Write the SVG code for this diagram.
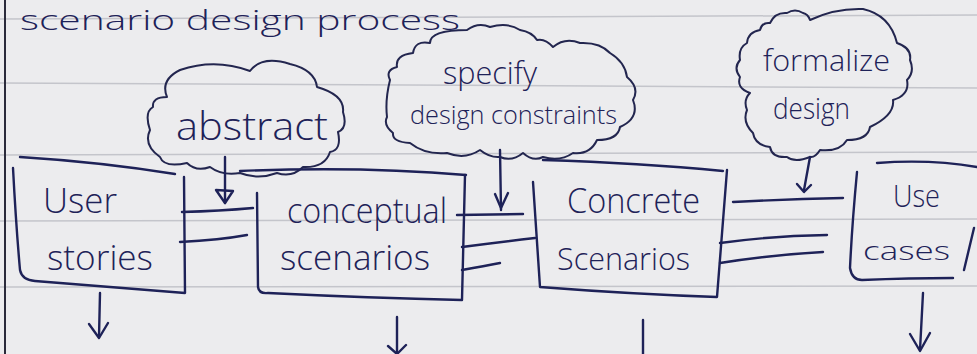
<svg xmlns="http://www.w3.org/2000/svg" width="977" height="354" viewBox="0 0 977 354">
  <style>
    .ink { fill: none; stroke: #1e2258; stroke-width: 2.4; stroke-linecap: round; stroke-linejoin: round; }
    .cloud { fill: none; stroke: #23264f; stroke-width: 2; stroke-linecap: round; stroke-linejoin: round; }
    .rule { stroke: #c4c5cb; stroke-width: 1.5; }
    .lbl { font-family: "Open Sans", "DejaVu Sans", sans-serif; font-weight: 300; fill: #1e2258; }
  </style>
  <rect width="977" height="354" fill="#ececee"/>
  <g id="paper">
    <line class="rule" x1="0" y1="19" x2="977" y2="15"/>
    <line class="rule" x1="0" y1="83" x2="977" y2="88"/>
    <line class="rule" x1="0" y1="155" x2="977" y2="152"/>
    <line class="rule" x1="0" y1="221" x2="977" y2="219"/>
    <line class="rule" x1="0" y1="287" x2="977" y2="286"/>
    <line x1="5" y1="0" x2="5" y2="354" stroke="#2a2a3a" stroke-width="2"/>
  </g>
  <g id="title">
    <text class="lbl" x="20" y="30" font-size="27" textLength="440" lengthAdjust="spacingAndGlyphs">scenario design process</text>
  </g>
  <g id="cloud-abstract">
    <path class="cloud" d="M167,97 Q160,80 180,70 Q215,58 250,71 Q262,55 290,64 Q315,70 317,87 Q345,95 343,112 Q348,128 338,132 Q342,150 330,152 Q325,168 303,167 Q292,178 277,173 Q258,180 240,173 Q222,176 210,167 Q196,172 187,163 Q164,168 160,157 Q143,145 150,130 Q144,112 153,107 Q152,97 167,97 Z"/>
    <text class="lbl" x="176" y="140" font-size="38" textLength="152" lengthAdjust="spacingAndGlyphs">abstract</text>
  </g>
  <g id="cloud-specify">
    <path class="cloud" d="M397,67 Q395,55 413,53 Q415,40 430,43 Q430,30 467,30 Q478,22 490,27 Q508,22 520,30 Q532,32 537,40 Q545,38 553,47 Q565,37 580,43 Q600,42 610,53 Q625,62 627,77 Q640,88 633,100 Q640,118 620,127 Q618,140 597,140 Q590,155 573,153 Q560,162 543,157 Q533,162 523,153 Q512,162 500,157 Q490,158 480,150 Q465,160 447,153 Q425,155 410,143 Q392,142 393,133 Q383,125 387,117 Q385,100 390,80 Q385,70 397,67 Z"/>
    <text class="lbl" x="443" y="84" font-size="32" textLength="94" lengthAdjust="spacingAndGlyphs">specify</text>
    <text class="lbl" x="410" y="124" font-size="25" textLength="207" lengthAdjust="spacingAndGlyphs">design constraints</text>
  </g>
  <g id="cloud-formalize">
    <path class="cloud" d="M760,30 Q762,22 770,23 Q775,12 787,13 Q795,8 803,13 Q808,14 810,20 Q835,8 863,9 Q890,15 897,43 Q912,48 910,60 Q915,72 907,80 Q910,95 893,100 Q895,115 870,127 Q868,140 847,140 Q840,152 820,150 Q815,158 810,157 Q795,163 787,157 Q772,158 770,147 Q755,145 753,133 Q742,122 747,110 Q743,100 750,93 Q736,88 740,77 Q733,68 740,60 Q738,48 747,43 Q748,32 760,30 Z"/>
    <text class="lbl" x="763" y="71" font-size="30" textLength="127" lengthAdjust="spacingAndGlyphs">formalize</text>
    <text class="lbl" x="773" y="119" font-size="29" textLength="77" lengthAdjust="spacingAndGlyphs">design</text>
  </g>
  <g id="user-stories">
    <path class="ink" d="M20,157 Q100,162 175,174"/>
    <path class="ink" d="M13,168 Q16,225 20,270 Q22,280 35,281 Q110,287 185,293 L184,177"/>
    <text class="lbl" x="43" y="213" font-size="34" textLength="74" lengthAdjust="spacingAndGlyphs">User</text>
    <text class="lbl" x="47" y="270" font-size="34" textLength="106" lengthAdjust="spacingAndGlyphs">stories</text>
  </g>
  <g id="conceptual-scenarios">
    <path class="ink" d="M240,171 Q360,166 466,175"/>
    <path class="ink" d="M257,193 L258,287 Q259,294 268,293 Q370,298 462,300 L465,175"/>
    <text class="lbl" x="287" y="223" font-size="34" textLength="160" lengthAdjust="spacingAndGlyphs">conceptual</text>
    <text class="lbl" x="280" y="270" font-size="34" textLength="150" lengthAdjust="spacingAndGlyphs">scenarios</text>
  </g>
  <g id="concrete-scenarios">
    <path class="ink" d="M543,160 Q640,163 723,171"/>
    <path class="ink" d="M533,182 L540,287 Q630,294 717,297 L727,170"/>
    <text class="lbl" x="567" y="213" font-size="34" textLength="133" lengthAdjust="spacingAndGlyphs">Concrete</text>
    <text class="lbl" x="557" y="270" font-size="32" textLength="133" lengthAdjust="spacingAndGlyphs">Scenarios</text>
  </g>
  <g id="use-cases">
    <path class="ink" d="M877,163 Q930,159 977,167"/>
    <path class="ink" d="M857,172 Q852,225 850,268 Q852,280 862,280 Q910,278 953,278"/>
    <path class="ink" d="M974,228 L964,270"/>
    <text class="lbl" x="893" y="207" font-size="32" textLength="47" lengthAdjust="spacingAndGlyphs">Use</text>
    <text class="lbl" x="863" y="260" font-size="26" textLength="87" lengthAdjust="spacingAndGlyphs">cases</text>
  </g>
  <g id="connectors">
    <path class="ink" d="M182,212 Q220,211 253,208"/>
    <path class="ink" d="M180,242 Q220,240 247,235"/>
    <path class="ink" d="M457,215 L523,214"/>
    <path class="ink" d="M462,247 Q500,242 535,238"/>
    <path class="ink" d="M462,270 Q485,266 500,263"/>
    <path class="ink" d="M733,202 Q790,199 843,198"/>
    <path class="ink" d="M720,243 Q770,236 827,235"/>
    <path class="ink" d="M720,263 Q770,255 823,252"/>
    <path class="ink" d="M225,157 L225,203"/>
    <path class="ink" d="M216,190 L233,191 L225,203 Z"/>
    <path class="ink" d="M500,150 L501,210"/>
    <path class="ink" d="M495,194 L501,208 L508,193"/>
    <path class="ink" d="M810,157 L804,190"/>
    <path class="ink" d="M797,184 L804,192 L811,185"/>
    <path class="ink" d="M100,293 L99,337"/>
    <path class="ink" d="M89,324 L99,338 L108,323"/>
    <path class="ink" d="M397,317 L397,354"/>
    <path class="ink" d="M388,346 L397,354 L406,345"/>
    <path class="ink" d="M643,320 L643,354"/>
    <path class="ink" d="M923,293 L920,350"/>
    <path class="ink" d="M910,334 L920,351 L930,333"/>
  </g>
</svg>
